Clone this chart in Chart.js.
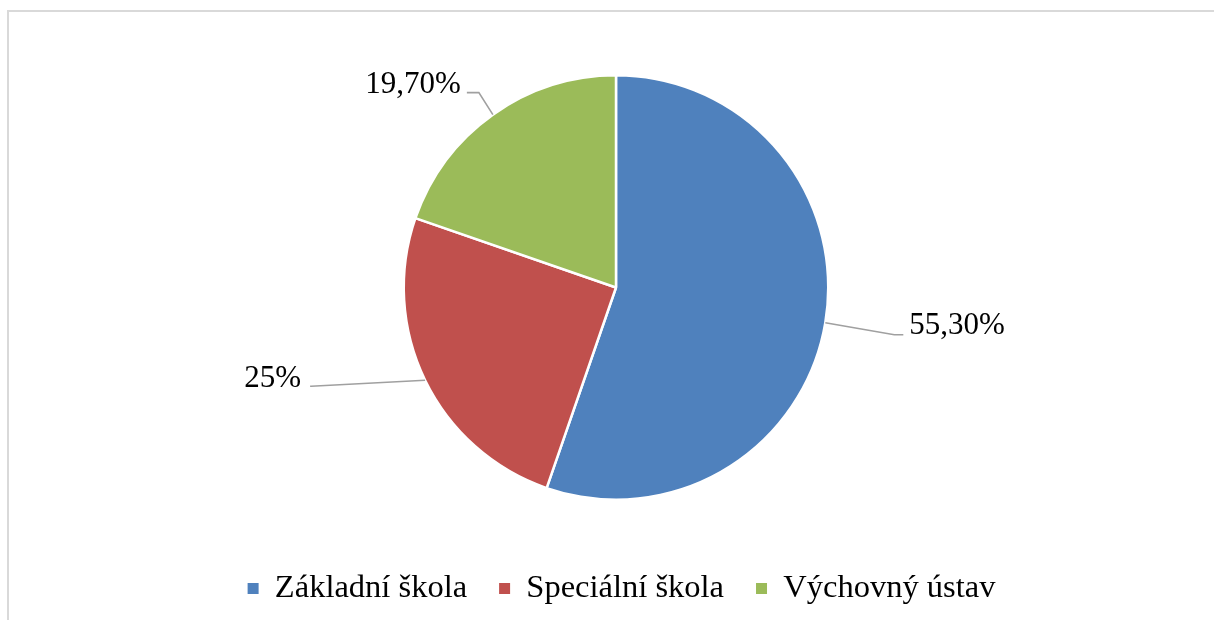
<!DOCTYPE html>
<html>
<head>
<meta charset="utf-8">
<script src="https://cdn.jsdelivr.net/npm/chart.js@4.4.0/dist/chart.umd.min.js"></script>
<style>
  html, body { margin: 0; padding: 0; background: #fff; overflow: hidden; }
  #wrap { position: relative; width: 1214px; height: 620px; }
</style>
</head>
<body>
<div id="wrap"><canvas id="c" width="1214" height="620"></canvas></div>
<script>
const categories = ['Základní škola', 'Speciální škola', 'Výchovný ústav'];
const values = [55.3, 25, 19.7];
const valueLabels = ['55,30%', '25%', '19,70%'];
const colors = ['#4f81bd', '#c0504d', '#9bbb59'];

const FONT = '"Liberation Serif", "Times New Roman", serif';

// leader line styling per slice: elbow offset, end offset (relative to arc midpoint), text side
const leaderStyle = [
  { elbow: [69, 12], end: [78, 12], side: 'left', gap: 6, dy: -9 },
  { elbow: [-114, 6], end: [-115, 6], side: 'right', gap: 9, dy: -7 },
  { elbow: [-14, -22], end: [-26, -22], side: 'right', gap: 6, dy: -8 }
];

const frame = {
  id: 'frame',
  beforeDraw(chart) {
    const ctx = chart.ctx;
    ctx.save();
    ctx.strokeStyle = '#d9d9d9';
    ctx.lineWidth = 2;
    ctx.strokeRect(8, 11, 1400, 1000);
    ctx.restore();
  }
};

const legendShift = {
  id: 'legendShift',
  afterLayout(chart) {
    if (chart.legend) {
      chart.legend.left += 5.5;
      chart.legend.right += 5.5;
    }
  }
};

const leaders = {
  id: 'leaders',
  afterDatasetsDraw(chart) {
    const ctx = chart.ctx;
    const meta = chart.getDatasetMeta(0);
    ctx.save();
    meta.data.forEach((arc, i) => {
      const p = arc.getProps(['x', 'y', 'startAngle', 'endAngle', 'outerRadius'], true);
      const mid = (p.startAngle + p.endAngle) / 2;
      const sx = p.x + Math.cos(mid) * p.outerRadius;
      const sy = p.y + Math.sin(mid) * p.outerRadius;
      const st = leaderStyle[i];
      ctx.strokeStyle = '#a0a0a0';
      ctx.lineWidth = 1.6;
      ctx.beginPath();
      ctx.moveTo(sx, sy);
      ctx.lineTo(sx + st.elbow[0], sy + st.elbow[1]);
      ctx.lineTo(sx + st.end[0], sy + st.end[1]);
      ctx.stroke();
      ctx.fillStyle = '#000';
      ctx.font = '31px ' + FONT;
      ctx.textBaseline = 'middle';
      const ex = sx + st.end[0], ey = sy + st.end[1];
      if (st.side === 'left') {
        ctx.textAlign = 'left';
        ctx.fillText(valueLabels[i], ex + st.gap, ey + st.dy);
      } else {
        ctx.textAlign = 'right';
        ctx.fillText(valueLabels[i], ex - st.gap, ey + st.dy);
      }
    });
    ctx.restore();
  }
};

new Chart(document.getElementById('c'), {
  type: 'pie',
  data: {
    labels: categories,
    datasets: [{
      data: values,
      backgroundColor: colors,
      borderColor: '#ffffff',
      borderWidth: 2.5
    }]
  },
  options: {
    responsive: false,
    animation: false,
    layout: { padding: { top: 74, bottom: 5.25, left: 20, right: 2 } },
    plugins: {
      tooltip: { enabled: false },
      legend: {
        position: 'bottom',
        title: {
          display: true,
          text: ' ',
          color: 'rgba(0,0,0,0)',
          font: { size: 10, lineHeight: 1 },
          padding: { top: 0, bottom: 29.25 }
        },
        labels: {
          color: '#000',
          font: { family: FONT, size: 32.5 },
          boxWidth: 11,
          boxHeight: 11,
          padding: 32,
          generateLabels(chart) {
            const items = Chart.overrides.pie.plugins.legend.labels.generateLabels(chart);
            items.forEach(it => { it.lineWidth = 0; it.strokeStyle = it.fillStyle; });
            return items;
          }
        }
      }
    }
  },
  plugins: [frame, legendShift, leaders]
});
</script>
</body>
</html>
